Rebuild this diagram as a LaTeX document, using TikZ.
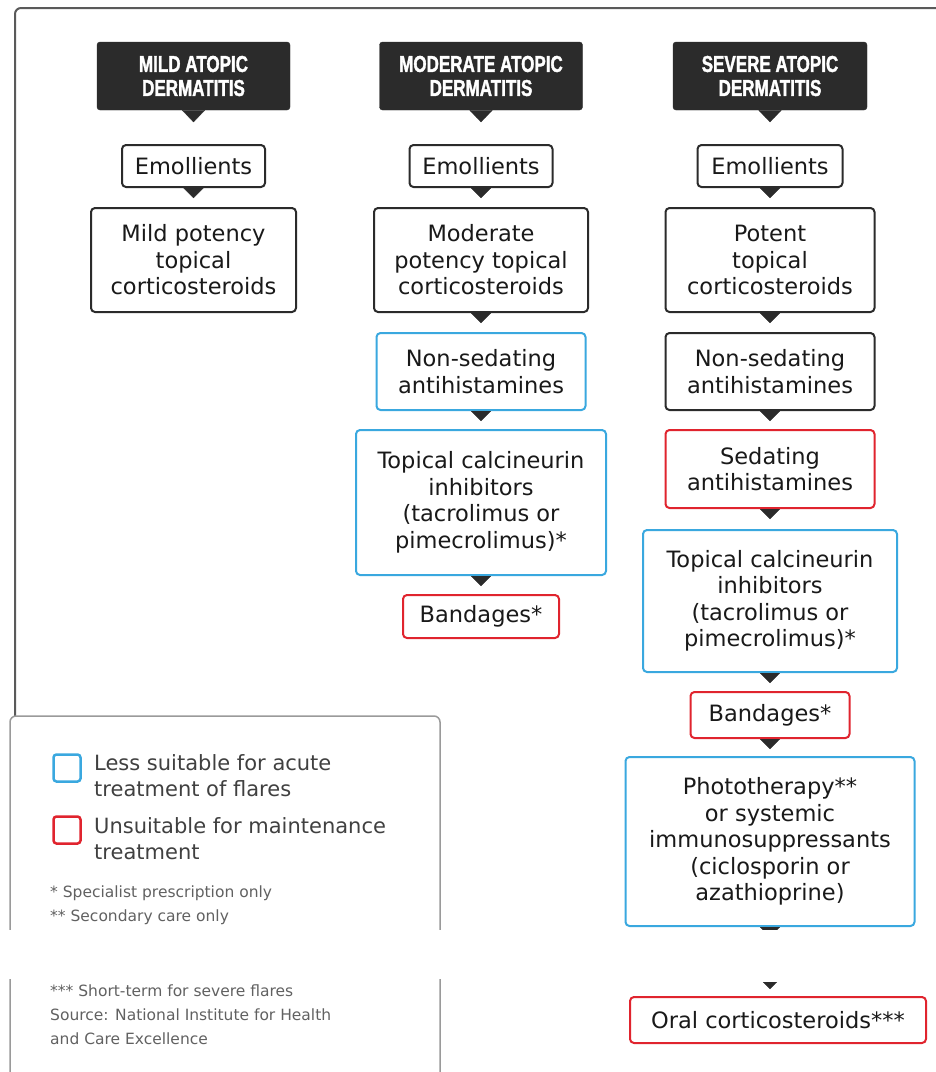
\documentclass[tikz,border=0pt]{standalone}
\usepackage{fontspec}
\setmainfont{DejaVu Sans}
\newfontfamily\headfont{Liberation Sans Bold}[FakeStretch=0.74,FakeBold=1.5]
\usepackage{tikz}
\usetikzlibrary{positioning}
\usetikzlibrary{arrows.meta,calc}
\definecolor{lessblue}{HTML}{3AA8DF}
\definecolor{unsuitred}{HTML}{E0242E}
\definecolor{boxgray}{HTML}{2B2B2B}
\definecolor{framegray}{HTML}{5A5A5A}
\definecolor{leggray}{HTML}{9A9A9A}
\definecolor{textgray}{HTML}{404040}
\tikzset{
    % black severity headers
    head/.style={
           fill=boxgray, draw=boxgray, rounded corners=3pt,
           text=white, align=center, inner sep=0pt,
           font=\headfont\fontsize{23}{24}\selectfont},
    % treatment boxes
    treat/.style={
           draw=boxgray, line width=2pt, rounded corners=4pt, fill=white,
           text=black!90, align=center, inner sep=0pt,
           font=\fontsize{22.5}{26.5}\selectfont},
    less/.style={treat, draw=lessblue},
    unsuit/.style={treat, draw=unsuitred},
    % pointer below a box
    pil/.style={
           draw=white, line width=0.2pt,
           arrows={Triangle[reversed, color=boxgray, width=20pt, length=10pt]}-},
    headpil/.style={
           draw=white, line width=0.2pt,
           arrows={Triangle[reversed, color=boxgray, width=23pt, length=12pt]}-},
    lastpil/.style={
           draw=white, line width=0.2pt, shorten >=7pt,
           arrows={Triangle[reversed, color=boxgray, width=20pt, length=10pt]}-{Triangle[color=boxgray, width=14pt, length=7pt]}},
    % legend
    legkey/.style={draw, line width=2.5pt, rounded corners=3pt, minimum size=27pt, inner sep=0pt},
    legtext/.style={anchor=north west, align=left, inner sep=0pt, text=textgray,
           font=\fontsize{21}{26}\selectfont},
    foot/.style={anchor=north west, align=left, inner sep=0pt, text=black!62,
           font=\fontsize{15.5}{24}\selectfont},
}

\begin{document}
\begin{tikzpicture}[x=1pt, y=-1pt]

\useasboundingbox (0,0) rectangle (936,1072);

%%%%%%%%%%%%%%%%%%%%%%%%%%%%%%%%%

% outer frame
\draw [framegray, line width=2pt, rounded corners=6pt] (15,716) -- (15,8) -- (950,8);

% headers
\node [head, minimum width=193pt, minimum height=68pt] (mildhead) at (193.5, 76) {MILD ATOPIC\\DERMATITIS};
\node [head, minimum width=203pt, minimum height=68pt] (modhead)  at (481, 76)   {MODERATE ATOPIC\\DERMATITIS};
\node [head, minimum width=194pt, minimum height=68pt] (sevhead)  at (770, 76)   {SEVERE ATOPIC\\DERMATITIS};

% mild column
\node [treat, minimum width=143pt, minimum height=42pt]  (mildemo) at (193.5, 166) {Emollients};
\node [treat, minimum width=205pt, minimum height=104pt] (mildpot) at (193.5, 260) {Mild potency\\topical\\corticosteroids};

% moderate column
\node [treat,  minimum width=143pt, minimum height=42pt]  (modemo)    at (481, 166)   {Emollients};
\node [treat,  minimum width=214pt, minimum height=104pt] (modpot)    at (481, 260)   {Moderate\\potency topical\\corticosteroids};
\node [less,   minimum width=209pt, minimum height=77pt]  (modnonsed) at (481, 371.5) {Non-sedating\\antihistamines};
\node [less,   minimum width=250pt, minimum height=145pt] (modtci)    at (481, 502.5) {Topical calcineurin\\inhibitors\\(tacrolimus or\\pimecrolimus)*};
\node [unsuit, minimum width=156pt, minimum height=43pt]  (modband)   at (481, 616.5) {Bandages*};

% severe column
\node [treat,  minimum width=145pt, minimum height=42pt]  (sevemo)    at (770, 166)   {Emollients};
\node [treat,  minimum width=209pt, minimum height=104pt] (sevpot)    at (770, 260)   {Potent\\topical\\corticosteroids};
\node [treat,  minimum width=209pt, minimum height=77pt]  (sevnonsed) at (770, 371.5) {Non-sedating\\antihistamines};
\node [unsuit, minimum width=209pt, minimum height=78pt]  (sevsed)    at (770, 469)   {Sedating\\antihistamines};
\node [less,   minimum width=254pt, minimum height=142pt] (sevtci)    at (770, 601)   {Topical calcineurin\\inhibitors\\(tacrolimus or\\pimecrolimus)*};
\node [unsuit, minimum width=159pt, minimum height=46pt]  (sevband)   at (770, 715)   {Bandages*};
\node [less,   minimum width=289pt, minimum height=169pt] (photo)     at (770, 841.5) {Phototherapy**\\or systemic\\immunosuppressants\\(ciclosporin or\\azathioprine)};
\node [unsuit, minimum width=296pt, minimum height=46pt]  (oral)      at (778, 1020)  {Oral corticosteroids***};

% pointers
\draw [headpil] (mildhead) -- (mildemo);
\draw [headpil] (modhead)  -- (modemo);
\draw [headpil] (sevhead)  -- (sevemo);

\draw [pil] (mildemo)   -- (mildpot);

\draw [pil] (modemo)    -- (modpot);
\draw [pil] (modpot)    -- (modnonsed);
\draw [pil] (modnonsed) -- (modtci);
\draw [pil] (modtci)    -- (modband);

\draw [pil] (sevemo)    -- (sevpot);
\draw [pil] (sevpot)    -- (sevnonsed);
\draw [pil] (sevnonsed) -- (sevsed);
\draw [pil] (sevsed)    -- (sevtci);
\draw [pil] (sevtci)    -- (sevband);
\draw [pil] (sevband)   -- (photo);
\draw [lastpil] (photo) -- (photo |- oral.north);

% legend
\draw [leggray, line width=1.5pt, rounded corners=6pt] (10,1090) -- (10,716) -- (440,716) -- (440,1090);

\node [legkey, draw=lessblue]  (keyless)   at (67, 768) {};
\node [legkey, draw=unsuitred] (keyunsuit) at (67, 830) {};
\node [legtext] (txtless)   at (94, 754) {Less suitable for acute\\treatment of flares};
\node [legtext] (txtunsuit) at (94, 817) {Unsuitable for maintenance\\treatment};

\node [foot] (notes)  at (50, 886) {* Specialist prescription only\\** Secondary care only};
\node [foot] (source) at (50, 985) {*** Short-term for severe flares\\Source: National Institute for Health\\and Care Excellence};

% cut through the picture
\fill [white] (0,930) rectangle (936,979);

\end{tikzpicture}
\end{document}
